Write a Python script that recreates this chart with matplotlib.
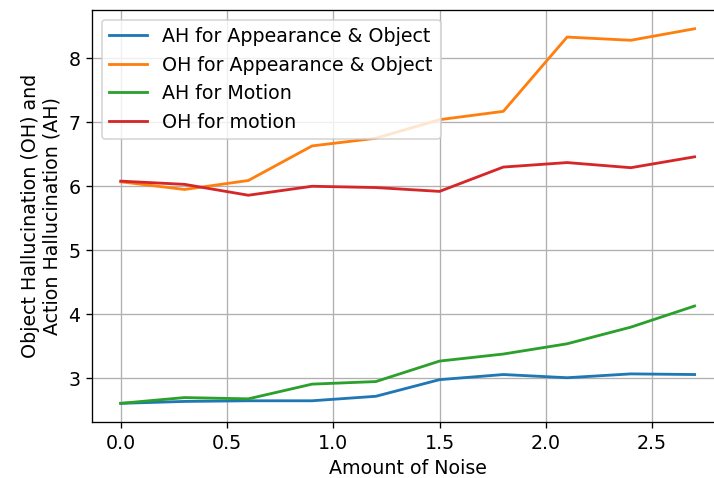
import matplotlib.pyplot as plt

noise = [0.0, 0.3, 0.6, 0.9, 1.2, 1.5, 1.8, 2.1, 2.4, 2.7]

ah_app_obj = [2.61, 2.64, 2.65, 2.65, 2.72, 2.98, 3.06, 3.01, 3.07, 3.06]
oh_app_obj = [6.07, 5.95, 6.09, 6.63, 6.75, 7.04, 7.17, 8.33, 8.28, 8.46]
ah_motion = [2.61, 2.70, 2.68, 2.91, 2.95, 3.27, 3.38, 3.54, 3.80, 4.13]
oh_motion = [6.08, 6.03, 5.86, 6.00, 5.98, 5.92, 6.30, 6.37, 6.29, 6.46]

labels = ["AH for Appearance & Object", "OH for Appearance & Object",
          "AH for Motion", "OH for motion"]

plt.rcParams['font.size'] = 11.5

fig = plt.figure(figsize=(6, 4.017), dpi=119)
ax = fig.add_axes([0.129, 0.117, 0.884, 0.862])

for series, lab in zip([ah_app_obj, oh_app_obj, ah_motion, oh_motion], labels):
    ax.plot(noise, series, label=lab, linewidth=1.7)

ax.set_xlabel("Amount of Noise")
ax.set_ylabel("Object Hallucination (OH) and\nAction Hallucination (AH)")
ax.grid()
ax.legend(loc="upper left")

fig.savefig("out.png", dpi=119)
